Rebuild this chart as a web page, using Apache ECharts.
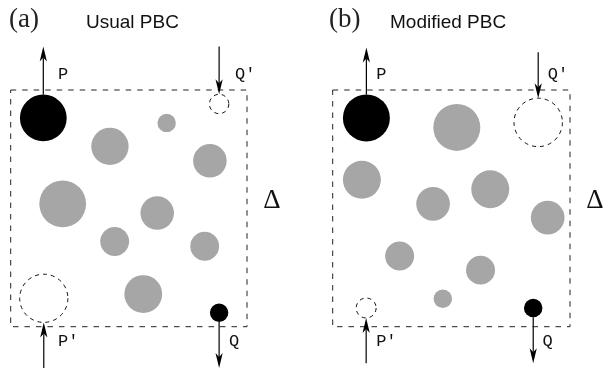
<!DOCTYPE html>
<html>
<head>
<meta charset="utf-8">
<script src="https://cdn.jsdelivr.net/npm/echarts@6/dist/echarts.min.js"></script>
<style>
  html, body { margin: 0; padding: 0; background: #fff; }
  #chart { width: 603px; height: 373px; }
</style>
</head>
<body>
<div id="chart"></div>
<script>
// Simulation box side length (box units)
const boxSize = 10;

const panelTags = ['(a)', '(b)'];
const panelTitles = ['Usual PBC', 'Modified PBC'];

// Discs as [x, y, radius] in box units
const grayDiscsA = [
  [6.60, 8.61, 0.39], [4.20, 7.62, 0.79], [8.43, 7.01, 0.71],
  [2.20, 5.19, 0.99], [6.20, 4.80, 0.71], [4.40, 3.60, 0.61],
  [8.21, 3.40, 0.61], [5.61, 1.38, 0.80]
];
const solidDiscsA = [[1.38, 8.82, 0.99], [8.82, 0.59, 0.39]];
const ghostDiscsA = [[8.82, 9.41, 0.41], [1.40, 1.20, 1.02]];

const grayDiscsB = [
  [5.23, 8.42, 0.99], [1.23, 6.21, 0.80], [6.64, 5.81, 0.80],
  [4.23, 5.19, 0.71], [9.06, 4.61, 0.71], [2.82, 2.99, 0.61],
  [6.23, 2.39, 0.61], [4.64, 1.18, 0.39]
];
const solidDiscsB = [[1.42, 8.82, 0.99], [8.45, 0.79, 0.39]];
const ghostDiscsB = [[8.66, 8.63, 1.02], [1.41, 0.79, 0.42]];

// Arrows as [x, yStart, yTip]
const arrowsA = [[1.38, 9.81, 11.84], [8.82, 11.84, 9.82], [1.40, -1.75, 0.18], [8.82, 0.20, -1.75]];
const arrowsB = [[1.42, 9.81, 11.80], [8.66, 11.60, 9.65], [1.41, -1.54, 0.37], [8.45, 0.40, -1.54]];

// Particle labels as [x, y] anchors with their names
const labelNames = ['P', 'Q\u2032', 'P\u2032', 'Q'];
const labelPosA = [[2.0, 10.65], [9.49, 10.65], [2.0, -0.63], [9.24, -0.63]];
const labelPosB = [[1.83, 10.65], [9.06, 10.65], [1.83, -0.63], [8.84, -0.63]];

// Box side marker
const sideMark = '\u0394';
const sideMarkPos = [[11.05, 5.3]];

const GRAY = '#a6a6a6';
const INK = '#000';

function discSeries(idx, data, fill, dashed) {
  return {
    type: 'custom', xAxisIndex: idx, yAxisIndex: idx, data: data, silent: true,
    renderItem: function (params, api) {
      const c = api.coord([api.value(0), api.value(1)]);
      const s = api.size([api.value(2), api.value(2)]);
      return {
        type: 'circle',
        shape: { cx: c[0], cy: c[1], r: s[0] },
        style: dashed
          ? { fill: 'none', stroke: '#111', lineWidth: 1, lineDash: [4, 4] }
          : { fill: fill }
      };
    }
  };
}

function boxSeries(idx) {
  return {
    type: 'custom', xAxisIndex: idx, yAxisIndex: idx, data: [[0, 0, boxSize]], silent: true,
    renderItem: function (params, api) {
      const p0 = api.coord([0, boxSize]);
      const p1 = api.coord([boxSize, 0]);
      return {
        type: 'rect',
        shape: { x: p0[0], y: p0[1], width: p1[0] - p0[0], height: p1[1] - p0[1] },
        style: { fill: 'none', stroke: '#222', lineWidth: 1, lineDash: [5.5, 6] }
      };
    }
  };
}

function arrowSeries(idx, data) {
  return {
    type: 'custom', xAxisIndex: idx, yAxisIndex: idx, data: data, silent: true,
    renderItem: function (params, api) {
      const a = api.coord([api.value(0), api.value(1)]);
      const b = api.coord([api.value(0), api.value(2)]);
      const dir = b[1] > a[1] ? 1 : -1;
      const len = 15, hw = 3.6, notch = 4;
      const base = b[1] - dir * (len - notch);
      return {
        type: 'group',
        children: [
          {
            type: 'line',
            shape: { x1: a[0], y1: a[1], x2: b[0], y2: base },
            style: { stroke: INK, lineWidth: 1.2 }
          },
          {
            type: 'polygon',
            shape: {
              points: [
                [b[0], b[1]],
                [b[0] + hw, b[1] - dir * len],
                [b[0], base],
                [b[0] - hw, b[1] - dir * len]
              ]
            },
            style: { fill: INK }
          }
        ]
      };
    }
  };
}

function labelSeries(idx, pos) {
  return {
    type: 'custom', xAxisIndex: idx, yAxisIndex: idx, data: pos, silent: true,
    renderItem: function (params, api) {
      const p = api.coord([api.value(0), api.value(1)]);
      return {
        type: 'text', x: p[0], y: p[1],
        style: {
          text: labelNames[params.dataIndex],
          font: '17px "Liberation Mono", "DejaVu Sans Mono", monospace',
          fill: '#111', align: 'left', verticalAlign: 'middle'
        }
      };
    }
  };
}

function markSeries(idx) {
  return {
    type: 'custom', xAxisIndex: idx, yAxisIndex: idx, data: sideMarkPos, silent: true,
    renderItem: function (params, api) {
      const p = api.coord([api.value(0), api.value(1)]);
      return {
        type: 'text', x: p[0], y: p[1],
        style: {
          text: sideMark,
          font: '27px "Liberation Serif", "DejaVu Serif", serif',
          fill: '#111', align: 'center', verticalAlign: 'middle'
        }
      };
    }
  };
}

const grids = [
  { left: 10.7, top: 90, width: 236.3, height: 236.7 },
  { left: 332.7, top: 90, width: 237.3, height: 236.7 }
];

const axisBase = { type: 'value', min: 0, max: boxSize, show: false };

const series = [];
[
  [grayDiscsA, solidDiscsA, ghostDiscsA, arrowsA, labelPosA],
  [grayDiscsB, solidDiscsB, ghostDiscsB, arrowsB, labelPosB]
].forEach(function (set, i) {
  series.push(boxSeries(i));
  series.push(discSeries(i, set[0], GRAY, false));
  series.push(discSeries(i, set[1], INK, false));
  series.push(discSeries(i, set[2], null, true));
  series.push(arrowSeries(i, set[3]));
  series.push(labelSeries(i, set[4]));
  series.push(markSeries(i));
});

const tagFont = '"Liberation Serif", "DejaVu Serif", serif';
const titleFont = '"Liberation Sans", Arial, sans-serif';

const chart = echarts.init(document.getElementById('chart'), null, { renderer: 'canvas' });
chart.setOption({
  animation: false,
  backgroundColor: '#fff',
  title: [
    { text: panelTags[0], left: 4, top: 1, textStyle: { fontFamily: tagFont, fontSize: 27, fontWeight: 'normal', color: '#222' } },
    { text: panelTitles[0], left: 81, top: 8, textStyle: { fontFamily: titleFont, fontSize: 19, fontWeight: 'normal', color: '#111' } },
    { text: panelTags[1], left: 324, top: 1, textStyle: { fontFamily: tagFont, fontSize: 27, fontWeight: 'normal', color: '#222' } },
    { text: panelTitles[1], left: 385, top: 8, textStyle: { fontFamily: titleFont, fontSize: 19, fontWeight: 'normal', color: '#111' } }
  ],
  grid: grids,
  xAxis: [Object.assign({ gridIndex: 0 }, axisBase), Object.assign({ gridIndex: 1 }, axisBase)],
  yAxis: [Object.assign({ gridIndex: 0 }, axisBase), Object.assign({ gridIndex: 1 }, axisBase)],
  series: series
});
</script>
</body>
</html>
